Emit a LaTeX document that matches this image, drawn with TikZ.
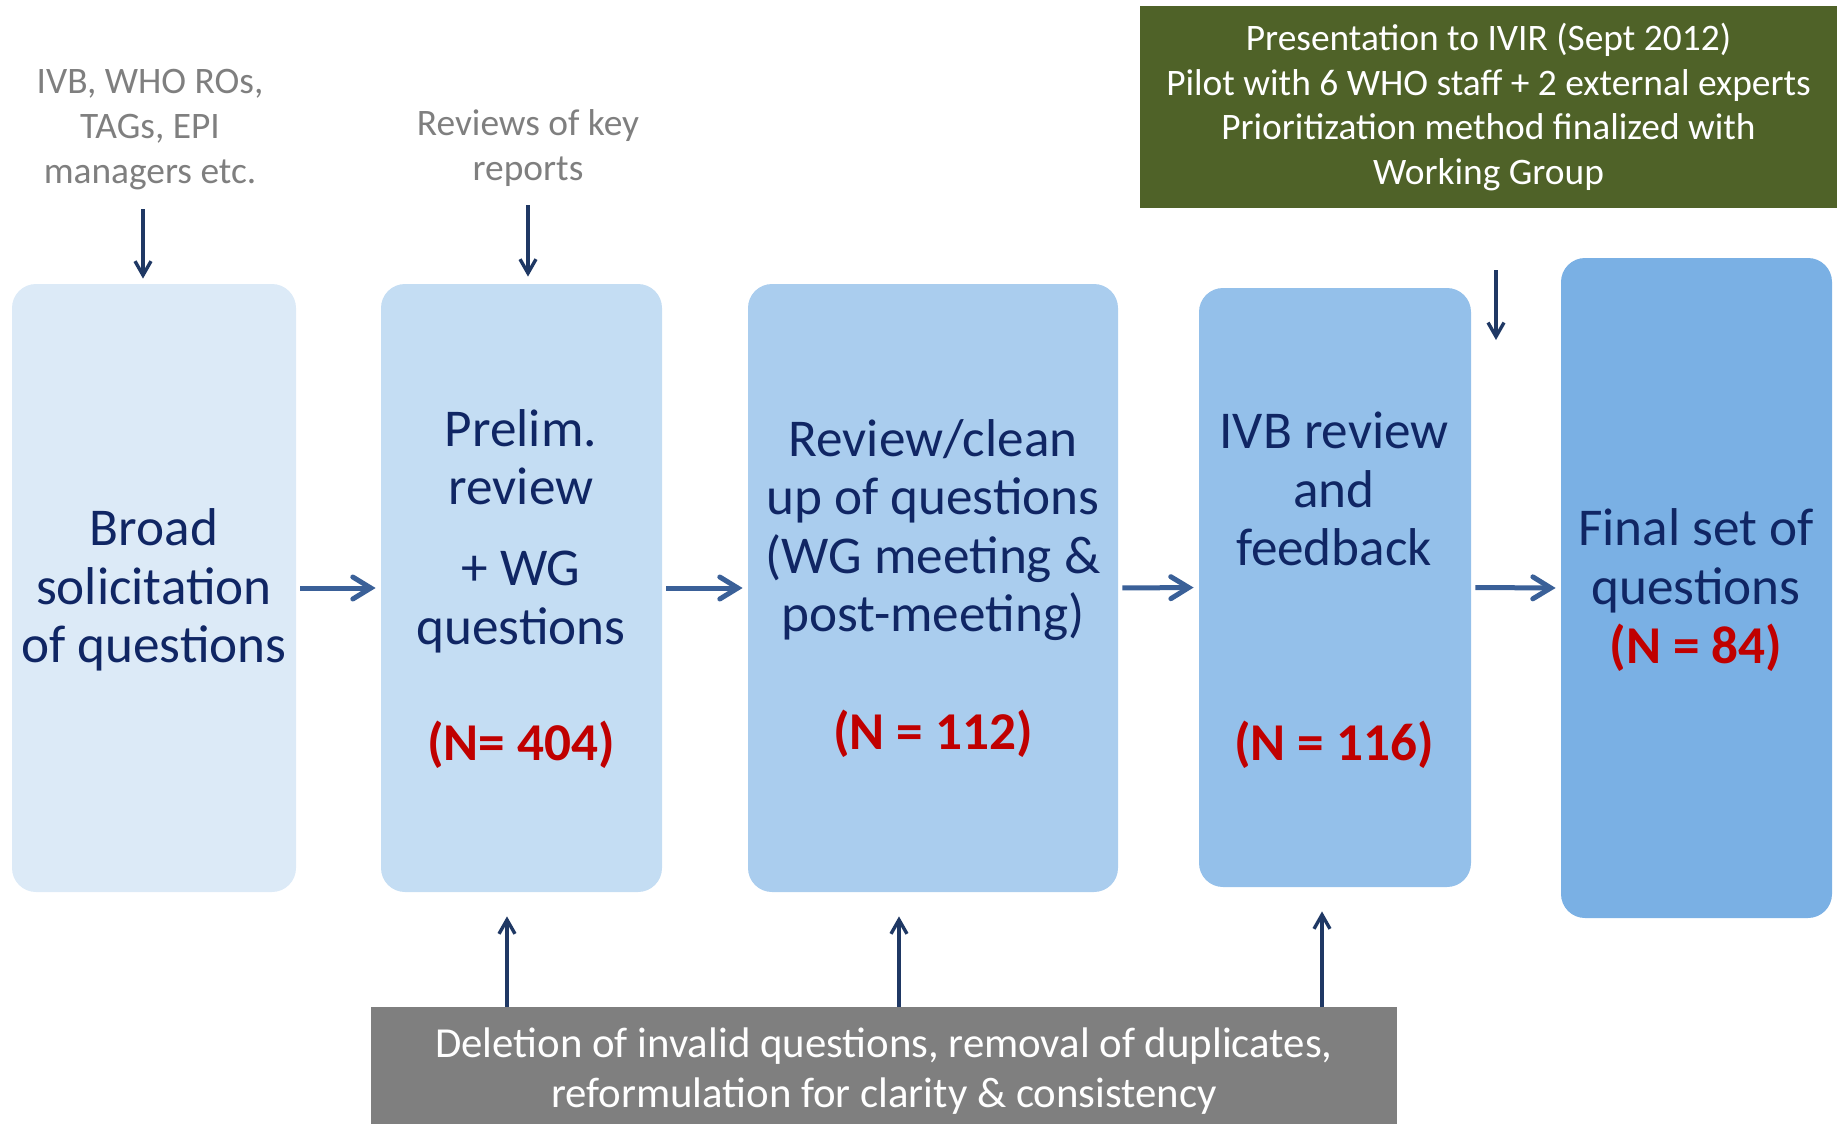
\documentclass[tikz,border=0pt]{standalone}
\usepackage{fontspec}
\setmainfont{Carlito}
\usetikzlibrary{arrows.meta,positioning}
\definecolor{navy}{RGB}{16,38,100}
\definecolor{arrowblue}{RGB}{58,96,152}
\definecolor{arrowdark}{RGB}{31,56,100}
\definecolor{nred}{RGB}{192,0,0}
\definecolor{notegrey}{RGB}{127,127,127}
\definecolor{olive}{RGB}{79,98,40}
\definecolor{boxa}{RGB}{220,234,247}
\definecolor{boxb}{RGB}{196,221,243}
\definecolor{boxc}{RGB}{170,205,238}
\definecolor{boxd}{RGB}{148,192,234}
\definecolor{boxe}{RGB}{122,176,228}
\tikzset{
  qbox/.style={rectangle,rounded corners=12pt,inner sep=0pt,minimum height=304pt},
  qtxt/.style={align=center,text=navy,inner sep=0pt,
               font=\fontsize{26.6}{29.3}\selectfont},
  ntxt/.style={text=nred,inner sep=0pt,font=\fontsize{26.6}{29.3}\selectfont\bfseries},
  note/.style={align=center,text=notegrey,inner sep=0pt,
               font=\fontsize{18.7}{22.5}\selectfont},
  greenbox/.style={fill=olive,text=white,align=center,inner sep=0pt,
                   minimum width=348.5pt,minimum height=101pt,
                   font=\fontsize{18.7}{22.3}\selectfont},
  delbox/.style={fill=notegrey,inner sep=0pt,minimum width=513pt,minimum height=58.5pt},
  deltxt/.style={text=white,align=center,inner sep=0pt,
                 font=\fontsize{21.4}{25}\selectfont},
  flow/.style={-{Straight Barb[length=9pt,width=11pt,line cap=round]},
               line width=2.5pt,draw=arrowblue,shorten <=2pt,shorten >=2.5pt},
  vflow/.style={-{Straight Barb[length=7pt,width=8pt]},line width=1.7pt,draw=arrowdark},
}
\begin{document}
\begin{tikzpicture}[x=0.5pt,y=-0.5pt]
  \useasboundingbox (0,0) rectangle (1841,1124);

  % --- etape --------------------------------------------------------------
  \node[qbox,fill=boxa,minimum width=142pt]   (solic)  at (154,588)    {};
  \node[qbox,fill=boxb,minimum width=140.5pt] (prelim) at (521.5,588)  {};
  \node[qbox,fill=boxc,minimum width=185pt]   (clean)  at (933,588)    {};
  \node[qbox,fill=boxd,minimum width=136pt,minimum height=299.5pt] (ivb) at (1335,587.5) {};
  \node[qbox,fill=boxe,minimum width=135.5pt,minimum height=330pt] (final) at (1696.5,588) {};

  \node[qtxt] (solictxt)  at (154,590)  {Broad\\solicitation\\of questions};
  \node[qtxt] (prelimtxt) at (521,531)  {Prelim.\\review\\[11pt]+ WG\\questions};
  \node[ntxt] (prelimn)   at (521,745)  {(N= 404)};
  \node[qtxt] (cleantxt)  at (933,530)  {Review/clean\\up of questions\\(WG meeting \&\\post-meeting)};
  \node[ntxt] (cleann)    at (933,734)  {(N = 112)};
  \node[qtxt] (ivbtxt)    at (1334,489) {IVB review\\and\\feedback};
  \node[ntxt] (ivbn)      at (1334,745) {(N = 116)};
  \node[qtxt] (finaltxt)  at (1696,590) {Final set of\\questions\\{\color{nred}\bfseries(N = 84)}};

  % --- surse si note ------------------------------------------------------
  \node[note] (src) at (150,130) {IVB, WHO ROs,\\TAGs, EPI\\managers etc.};
  \node[note] (rep) at (528,148) {Reviews of key\\reports};
  \node[greenbox] (ivir) at (1488.5,107)
        {Presentation to IVIR (Sept 2012)\\Pilot with 6 WHO staff + 2 external experts
         \\Prioritization method finalized with\\Working Group};
  \node[delbox] (dele) at (884,1065.5) {};
  \node[deltxt] (deletxt) at (884,1071.5)
        {Deletion of invalid questions, removal of duplicates,\\reformulation for clarity \& consistency};

  % --- flux principal -----------------------------------------------------
  \draw[flow] (solic.east) -- (prelim.west);
  \draw[flow] (prelim.east) -- (clean.west);
  \draw[flow] (clean.east) -- (ivb.west);
  \draw[flow] (ivb.east) -- (final.west);

  % --- intrari de sus -----------------------------------------------------
  \coordinate (srcfrom)  at (143,209);
  \coordinate (repfrom)  at (528,205);
  \coordinate (ivirfrom) at (1496,270);
  \coordinate (ivirto)   at (1496,340);
  \draw[vflow,shorten >=2.5pt] (srcfrom) -- (srcfrom |- solic.north);
  \draw[vflow,shorten >=3.5pt] (repfrom) -- (repfrom |- prelim.north);
  \draw[vflow] (ivirfrom) -- (ivirto);

  % --- curatare, de jos ---------------------------------------------------
  \foreach \x/\b in {507/prelim,899/clean,1322/ivb}{
    \coordinate (up\b) at (\x,1007);
    \draw[vflow,shorten >=12pt] (up\b) -- (up\b |- \b.south);
  }

\end{tikzpicture}
\end{document}
